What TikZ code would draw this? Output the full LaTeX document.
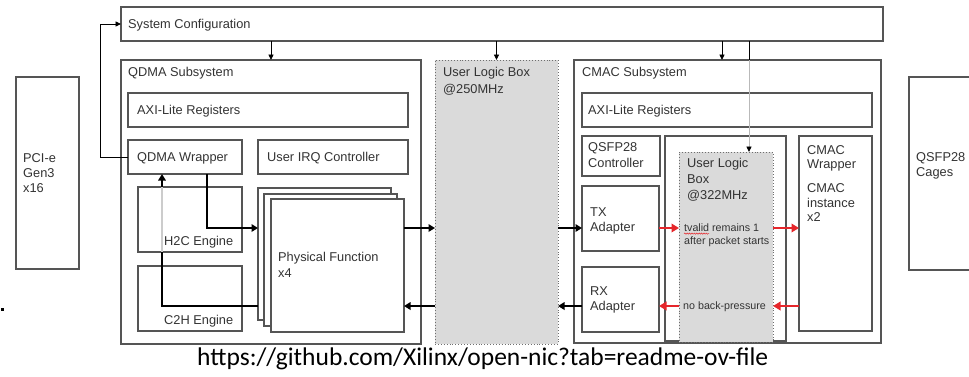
\documentclass[tikz,border=0pt]{standalone}
\usepackage{fontspec}
\setmainfont{Liberation Sans}
\newfontfamily\urlfont{Carlito}
\usetikzlibrary{arrows.meta,fit,decorations.pathmorphing}
\definecolor{edge}{HTML}{555555}
\definecolor{ink}{HTML}{333333}
\definecolor{ulfill}{HTML}{DADADA}
\definecolor{sigred}{HTML}{E5262B}
% a box given by its two corners: style, name, x1, y1, x2, y2
\newcommand\putbox[6]{%
  \path (#3,#4) coordinate (#2-nw) (#5,#6) coordinate (#2-se);
  \node[#1, fit=(#2-nw)(#2-se)] (#2) {};}
\begin{document}
\begin{tikzpicture}[x=1pt,y=-1pt,
  blk/.style={draw=edge, line width=1.2pt, fill=white, inner sep=0pt, outer sep=0pt},
  ulbox/.style={draw=edge!85, dotted, line width=0.9pt, fill=ulfill, inner sep=0pt, outer sep=0pt},
  lbl/.style={anchor=base west, inner sep=0pt, text=ink, font=\fontsize{12.8}{15}\selectfont},
  note/.style={anchor=base west, inner sep=0pt, text=ink, font=\fontsize{10.7}{13}\selectfont},
  ctl/.style={draw=black, line width=0.9pt, -{Triangle[length=5.5pt,width=5pt]}},
  bus/.style={draw=black, line width=2.8pt, -{Triangle[length=6.5pt,width=7.5pt]}},
  redbus/.style={draw=sigred, line width=2.8pt, -{Triangle[length=7.5pt,width=8.5pt]}},
]
\fill[white] (0,0) rectangle (969,376);
\useasboundingbox (0,0) rectangle (969,376);
\clip (0,0) rectangle (969,376);

% ---- outer blocks
\putbox{blk}{sys}{121}{7}{883}{41}
\putbox{blk}{pcie}{16}{77}{79}{269}
\putbox{blk}{cages}{909}{77}{985}{270}
\putbox{blk}{qdma}{121}{60}{421}{344}
\putbox{ulbox}{ulb}{435}{60}{558}{344}
\putbox{blk}{cmac}{574}{60}{881}{343}

% ---- QDMA subsystem
\putbox{blk}{axq}{128}{93}{408}{127}
\putbox{blk}{wrap}{128}{140}{242}{174}
\putbox{blk}{irq}{258}{140}{408}{174}
\putbox{blk}{h2c}{138}{187}{242}{252}
\putbox{blk}{c2h}{138}{266}{242}{331}
\putbox{blk}{pf3}{258}{188}{391}{320}
\putbox{blk}{pf2}{264}{194}{397}{326}
\putbox{blk}{pf1}{271}{199}{404}{332}

% ---- CMAC subsystem
\putbox{blk}{axc}{582}{93}{872}{127}
\putbox{blk}{qctl}{582}{136}{660}{176}
\putbox{blk}{inner}{665}{136}{786}{341}
\putbox{ulbox}{ul3}{679}{152}{773}{342}
\putbox{blk}{txa}{582}{186}{659}{251}
\putbox{blk}{rxa}{582}{267}{659}{332}
\putbox{blk}{cw}{799}{136}{872}{331}

% ---- channel rows and control columns
\coordinate (tx) at (0,228);
\coordinate (rx) at (0,306);
\coordinate (cfgq) at (722,0);
\coordinate (cfgu) at (749,0);
\coordinate (h2cx) at (207,0);
\coordinate (c2hx) at (162,0);

% ---- configuration paths
\draw[ctl] (wrap.west) -- ++(-28,0) |- (sys.west);
\draw[ctl] (sys.south -| qdma.north) -- (qdma.north);
\draw[ctl] (sys.south -| ulb.north) -- (ulb.north);
\draw[ctl] (sys.south -| cfgq) -- (cmac.north -| cfgq);
\draw[ctl, draw=gray!55, -{Triangle[length=5.5pt,width=5pt,color=black]}]
  (sys.south -| cfgu) -- (ul3.north -| cfgu);
\draw[black, line width=0.9pt] (sys.south -| cfgu) -- (cmac.north -| cfgu);

% ---- data paths
\draw[bus] (wrap.south -| h2cx) |- (pf3.west |- tx);
\draw[bus] (pf3.west |- rx) -| (wrap.south -| c2hx);
\draw[draw=gray!40, line width=2.2pt] (h2c.north -| c2hx) -- (h2c.south -| c2hx);
\draw[bus] (pf1.east |- tx) -- (ulb.west |- tx);
\draw[bus] (ulb.west |- rx) -- (pf1.east |- rx);
\draw[bus] (ulb.east |- tx) -- (txa.west |- tx);
\draw[bus] (rxa.west |- rx) -- (ulb.east |- rx);
\draw[redbus] (txa.east |- tx) -- (ul3.west |- tx);
\draw[redbus] (ul3.east |- tx) -- (cw.west |- tx);
\draw[redbus] (cw.west |- rx) -- (ul3.east |- rx);
\draw[redbus] (ul3.west |- rx) -- (rxa.east |- rx);

% ---- labels
\node[lbl] (t-sys) at (128,28) {System Configuration};
\node[lbl] (t-pc1) at (23,162) {PCI-e};
\node[lbl] (t-pc2) at (23,177) {Gen3};
\node[lbl] (t-pc3) at (23,192) {x16};
\node[lbl] (t-qdma) at (128,76) {QDMA Subsystem};
\node[lbl] (t-axq) at (137,114) {AXI-Lite Registers};
\node[lbl] (t-wrap) at (137,161) {QDMA Wrapper};
\node[lbl] (t-irq) at (267,161) {User IRQ Controller};
\node[lbl] (t-h2c) at (164,245) {H2C Engine};
\node[lbl] (t-c2h) at (164,324) {C2H Engine};
\node[lbl] (t-pf1) at (278,261) {Physical Function};
\node[lbl] (t-pf2) at (278,277) {x4};
\node[lbl] (t-ulb1) at (443,76) {User Logic Box};
\node[lbl] (t-ulb2) at (443,93) {@250MHz};
\node[lbl] (t-cmac) at (582,76) {CMAC Subsystem};
\node[lbl] (t-axc) at (588,114) {AXI-Lite Registers};
\node[lbl] (t-q1) at (588,151) {QSFP28};
\node[lbl] (t-q2) at (588,167) {Controller};
\node[lbl] (t-u1) at (687,167) {User Logic};
\node[lbl] (t-u2) at (687,183) {Box};
\node[lbl] (t-u3) at (687,199) {@322MHz};
\node[lbl] (t-tx1) at (590,216) {TX};
\node[lbl] (t-tx2) at (590,231) {Adapter};
\node[lbl] (t-rx1) at (590,295) {RX};
\node[lbl] (t-rx2) at (590,310) {Adapter};
\node[lbl] (t-cw1) at (807,154) {CMAC};
\node[lbl] (t-cw2) at (807,168) {Wrapper};
\node[lbl] (t-cw3) at (807,192) {CMAC};
\node[lbl] (t-cw4) at (807,207) {instance};
\node[lbl] (t-cw5) at (807,221) {x2};
\node[lbl] (t-cg1) at (916,161) {QSFP28};
\node[lbl] (t-cg2) at (916,176) {Cages};
\node[note] (t-tv1) at (684,231) {tvalid remains 1};
\node[note] (t-tv2) at (684,244) {after packet starts};
\node[note] (t-bp) at (683,309) {no back-pressure};
\draw[sigred, line width=0.5pt, decorate,
      decoration={snake, amplitude=0.6pt, segment length=2.4pt}]
  (t-tv1.base west) ++(0,2.6) -- ++(25,0);

% stray mark at the left margin
\fill[black] (0.5,307.5) rectangle (3.5,310.5);

% source link
\node[anchor=base west, inner sep=0pt, text=black,
      font=\urlfont\fontsize{25.5}{30}\selectfont] (url) at (197,365)
  {https://github.com/Xilinx/open-nic?tab=readme-ov-file};
\end{tikzpicture}
\end{document}
